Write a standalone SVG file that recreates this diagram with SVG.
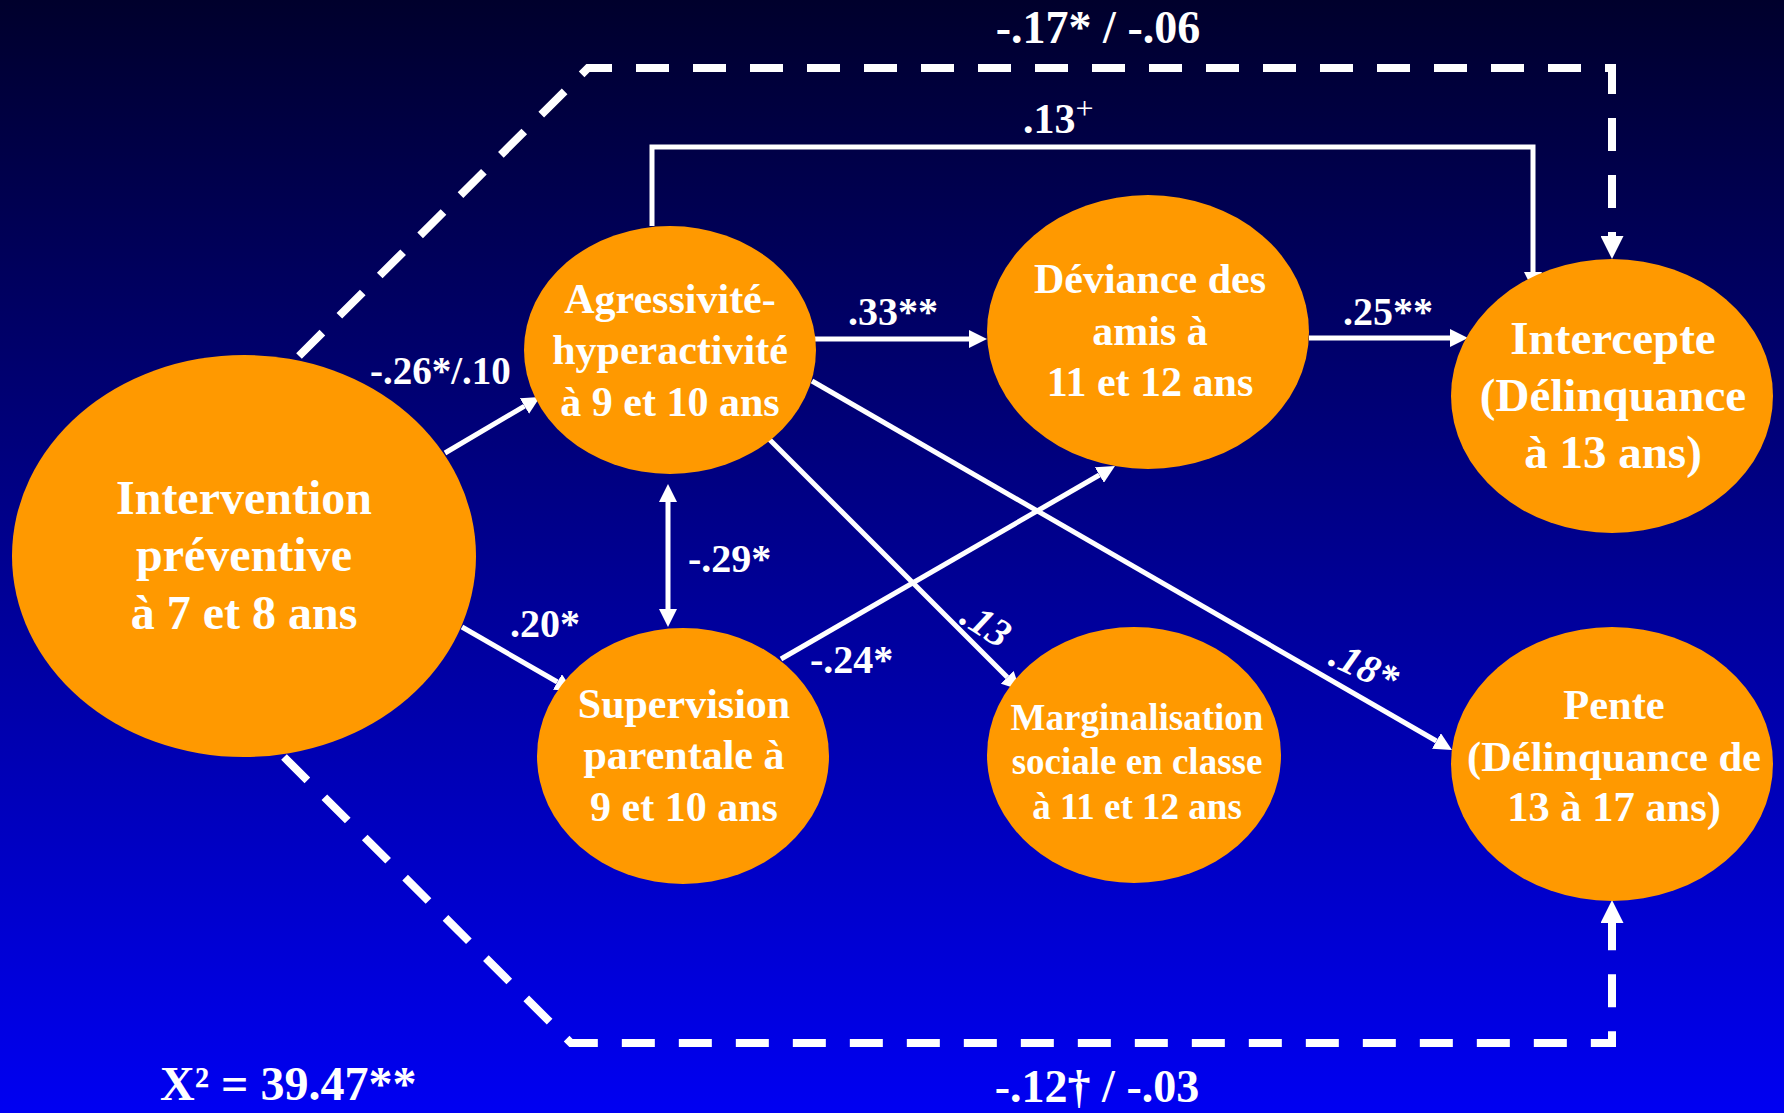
<svg xmlns="http://www.w3.org/2000/svg" width="1784" height="1113" viewBox="0 0 1784 1113">
<defs>
<linearGradient id="bg" x1="0" y1="0" x2="0" y2="1">
<stop offset="0" stop-color="#00002C"/>
<stop offset="0.5" stop-color="#000090"/>
<stop offset="1" stop-color="#0000F2"/>
</linearGradient>
<marker id="arr" markerUnits="userSpaceOnUse" markerWidth="18" markerHeight="18" refX="0" refY="9" orient="auto-start-reverse" viewBox="0 0 18 18">
<path d="M0,0 L18,9 L0,18 z" fill="#fff"/>
</marker>
<marker id="darr" markerUnits="userSpaceOnUse" markerWidth="23" markerHeight="23" refX="0" refY="11.5" orient="auto" viewBox="0 0 23 23">
<path d="M0,0 L23,11.5 L0,23 z" fill="#fff"/>
</marker>
</defs>
<style>
.node{fill:#FF9900}
text{font-family:"Liberation Serif","Times New Roman",serif;font-weight:bold;fill:#fff}
.nt{text-anchor:middle}
.solid{fill:none;stroke:#fff;stroke-width:5}
.dash{fill:none;stroke:#fff;stroke-width:8;stroke-dasharray:33 24}
.arrow{marker-end:url(#arr)}
.it{font-style:italic}
</style>
<rect x="0" y="0" width="1784" height="1113" fill="url(#bg)"/>

<g id="connectors">
<path class="dash" d="M299,356 L588,68 L1612,68 L1612,236" marker-end="url(#darr)"/>
<path class="dash" d="M284,757 L571,1043 L1612,1043 L1612,923" marker-end="url(#darr)"/>
<path class="solid arrow" d="M652,226 L652,147 L1533,147 L1533,272"/>
<path class="solid arrow" d="M445,453 L524.5,406.1"/>
<path class="solid arrow" d="M462,627 L557.4,682"/>
<path class="solid" d="M668,502 L668,609" marker-start="url(#arr)" marker-end="url(#arr)"/>
<path class="solid arrow" d="M781,659 L1099.4,475"/>
<path class="solid arrow" d="M766,436 L1007.3,677.3"/>
<path class="solid arrow" d="M812,381 L1436.4,741"/>
<path class="solid arrow" d="M815,339 L969,339"/>
<path class="solid arrow" d="M1309,338 L1450,338"/>
</g>

<g id="node-intervention">
<ellipse class="node" cx="244" cy="556" rx="232" ry="201"/>
<text class="nt" font-size="48"><tspan x="244" y="514">Intervention</tspan><tspan x="244" y="571">préventive</tspan><tspan x="244" y="629">à 7 et 8 ans</tspan></text>
</g>
<g id="node-agressivite">
<ellipse class="node" cx="670" cy="350" rx="146" ry="124"/>
<text class="nt" font-size="42"><tspan x="670" y="313">Agressivité-</tspan><tspan x="670" y="364">hyperactivité</tspan><tspan x="670" y="416">à 9 et 10 ans</tspan></text>
</g>
<g id="node-supervision">
<ellipse class="node" cx="683" cy="756" rx="146" ry="128"/>
<text class="nt" font-size="42"><tspan x="684" y="718">Supervision</tspan><tspan x="684" y="769">parentale à</tspan><tspan x="684" y="821">9 et 10 ans</tspan></text>
</g>
<g id="node-deviance">
<ellipse class="node" cx="1148" cy="332" rx="161" ry="137"/>
<text class="nt" font-size="42"><tspan x="1150" y="293">Déviance des</tspan><tspan x="1150" y="345">amis à</tspan><tspan x="1150" y="396">11 et 12 ans</tspan></text>
</g>
<g id="node-marginalisation">
<ellipse class="node" cx="1134" cy="755" rx="147" ry="128"/>
<text class="nt" font-size="37"><tspan x="1137" y="730">Marginalisation</tspan><tspan x="1137" y="774">sociale en classe</tspan><tspan x="1137" y="819">à 11 et 12 ans</tspan></text>
</g>
<g id="node-intercepte">
<ellipse class="node" cx="1612" cy="396" rx="161" ry="137"/>
<text class="nt" font-size="47"><tspan x="1613" y="354">Intercepte</tspan><tspan x="1613" y="411">(Délinquance</tspan><tspan x="1613" y="468">à 13 ans)</tspan></text>
</g>
<g id="node-pente">
<ellipse class="node" cx="1612" cy="764" rx="161" ry="137"/>
<text class="nt" font-size="42.5"><tspan x="1614" y="719">Pente</tspan><tspan x="1614" y="771">(Délinquance de</tspan><tspan x="1614" y="821">13 à 17 ans)</tspan></text>
</g>

<g id="labels">
<text x="1098" y="43" font-size="46" text-anchor="middle">-.17* / -.06</text>
<text x="1023" y="133" font-size="42">.13<tspan font-size="32" font-weight="normal" dy="-14">+</tspan></text>
<text x="370" y="384" font-size="39">-.26*/.10</text>
<text x="848" y="325" font-size="40">.33**</text>
<text x="1343" y="325" font-size="40">.25**</text>
<text x="688" y="572" font-size="40">-.29*</text>
<text x="510" y="637" font-size="40">.20*</text>
<text x="810" y="673" font-size="40">-.24*</text>
<text class="it" x="958" y="622" font-size="40" transform="rotate(33 958 622)">.13</text>
<text class="it" x="1327" y="664" font-size="40" transform="rotate(25 1327 664)">.18*</text>
<text x="160" y="1100" font-size="48">X² = 39.47**</text>
<text x="1097" y="1102" font-size="46" text-anchor="middle">-.12† / -.03</text>
</g>
</svg>
